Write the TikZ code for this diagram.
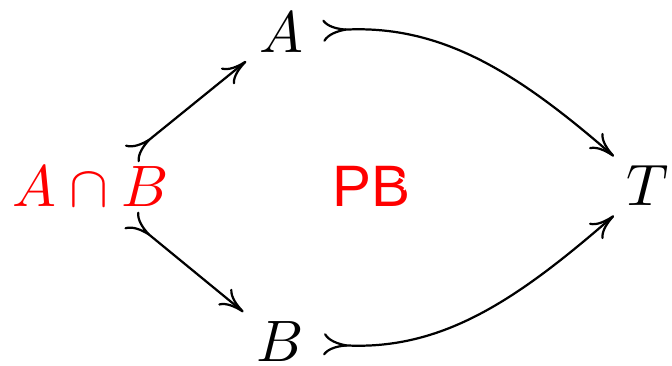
\documentclass[tikz,border=0pt]{standalone}
\usepackage{fontspec}
\newfontfamily\pbfont{Liberation Sans}
\usetikzlibrary{arrows.meta}
\tikzset{
  obj/.style={inner sep=2pt},
  mono/.style={line width=0.38pt,
    arrows={Computer Modern Rightarrow[length=4.1pt,width=3.8pt,reversed]-Computer Modern Rightarrow[length=4.2pt,width=3.6pt]}},
}
\begin{document}
\begin{tikzpicture}[x=0.171pt,y=-0.171pt]
\useasboundingbox (0,0) rectangle (672,366);
\node[obj,text=red] (AB) at (91,187) {$A\cap B$};
\node[obj] (A) at (281,33) {$A$};
\node[obj] (B) at (280,342) {$B$};
\node[obj] (T) at (648,186) {$T$};
\node[obj,text=red] (PB) at (372,186) {\pbfont PB};
\draw[white,line width=0.3pt] (404,190) arc[start angle=40,end angle=-100,radius=8];
\draw[mono] (AB) -- (A);
\draw[mono] (AB) -- (B);
\draw[mono,shorten <=1.2pt] (A) to[out=3,in=139] (T);
\draw[mono,shorten <=1.2pt] (B) to[out=-3,in=-139] (T);
\end{tikzpicture}
\end{document}
